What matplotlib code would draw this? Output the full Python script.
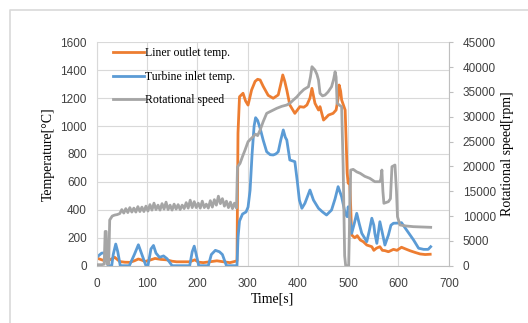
import matplotlib
matplotlib.use('Agg')
import matplotlib.pyplot as plt
from matplotlib.lines import Line2D

# 时间 [s] 与温度 [°C]
liner_t = [0, 8, 16, 25, 36, 46, 56, 66, 75, 83, 90, 96, 106, 116, 128, 139, 150, 159, 172, 185,
           195, 203, 212, 225, 239, 252, 265, 274, 279, 281, 284, 291, 296, 301, 308, 315, 320, 325,
           331, 341, 351, 361, 366, 370, 374, 378, 384, 394, 404, 412, 418, 424, 428, 434, 441, 444,
           451, 456, 461, 470, 476, 480, 482, 485, 487, 494, 498, 500, 503, 507, 513, 518, 524, 530,
           537, 547, 551, 556, 563, 568, 573, 580, 590, 597, 606, 614, 623, 633, 643, 653, 663]
liner_v = [55, 45, 35, 40, 60, 30, 25, 24, 35, 48, 40, 30, 40, 52, 45, 42, 32, 28, 28, 28,
           42, 25, 22, 28, 35, 28, 22, 30, 35, 950, 1210, 1235, 1180, 1150, 1258, 1320, 1335, 1330,
           1285, 1220, 1199, 1223, 1300, 1366, 1320, 1258, 1151, 1091, 1139, 1135, 1151, 1200, 1270, 1163, 1115, 1139,
           1043, 1060, 1079, 1091, 1115, 1200, 1294, 1250, 1187, 1115, 662, 590, 620, 220, 200, 215, 184, 172,
           148, 136, 110, 125, 136, 110, 108, 100, 117, 110, 132, 120, 107, 95, 84, 80, 82]

turb_t = [0, 5, 10, 17, 20, 23, 30, 33, 38, 42, 47, 65, 75, 83, 90, 98, 102, 108, 113, 118, 125,
          133, 140, 150, 185, 190, 194, 198, 203, 222, 228, 236, 244, 250, 258, 279, 281, 284, 290,
          297, 301, 305, 309, 313, 316, 320, 325, 331, 338, 345, 351, 356, 361, 366, 371, 375, 378,
          384, 394, 399, 403, 408, 414, 424, 431, 441, 449, 457, 467, 474, 480, 487, 494, 498, 500,
          503, 507, 512, 517, 522, 527, 537, 542, 547, 551, 553, 557, 563, 567, 573, 580, 585, 590,
          598, 606, 616, 623, 630, 640, 650, 659, 664]
turb_v = [60, 75, 90, 92, 40, 0, 0, 80, 155, 100, 0, 0, 80, 150, 80, 0, 0, 120, 145, 90, 60,
          70, 50, 0, 0, 100, 140, 80, 0, 0, 80, 110, 100, 80, 0, 0, 200, 320, 370,
          385, 420, 540, 800, 1000, 1060, 1040, 984, 900, 816, 795, 793, 800, 816, 900, 972, 920, 900,
          757, 745, 600, 470, 411, 447, 542, 470, 411, 385, 363, 399, 480, 566, 494, 375, 351, 422,
          350, 232, 300, 375, 300, 232, 172, 250, 340, 290, 232, 160, 315, 250, 148, 220, 290, 304,
          305, 308, 256, 220, 184, 125, 117, 117, 136]

# 转速 [rpm]
speed_t = [0, 10, 15, 17, 19, 21, 24, 26, 31, 36, 41,
           46, 50, 54, 58, 62, 66, 70, 74, 78, 82, 86, 90, 94, 98, 102, 106, 110, 114, 118, 122,
           126, 130, 134, 138, 142, 146, 150, 154, 158, 162, 166, 170, 174, 178, 182, 186, 190, 194,
           198, 202, 206, 210, 214, 218, 222, 226, 230, 234, 238, 242, 246, 250, 254, 258, 262, 266,
           270, 274, 278,
           280, 285, 290, 295, 301, 306, 311, 316, 320, 325, 331, 338, 348, 358, 368, 378, 385, 391,
           398, 404, 412, 421, 425, 428, 434, 438, 441, 444, 449, 454, 460, 467, 471, 474, 476, 478,
           483, 487, 490, 493, 495, 501, 503, 505, 510, 517, 524, 533, 543, 553, 563, 565, 567, 569,
           571, 580, 584, 587, 593, 596, 598, 603, 615, 630, 645, 664]
speed_v = [200, 200, 300, 6900, 6900, 300, 300, 9200, 10000, 10200, 10300,
           10500, 11300, 10600, 11500, 10700, 11700, 10800, 11600, 10800, 11900, 10900, 11800, 10900, 12000,
           11000, 12300, 11200, 12600, 11300, 12200, 11200, 12500, 11400, 12800, 11300, 12200, 11200, 12400,
           11400, 12300, 11300, 12200, 11500, 12700, 11600, 13200, 11700, 12900, 11700, 12600, 11600, 13000,
           11700, 12400, 11600, 13100, 11800, 13300, 12200, 14000, 12500, 13500, 12000, 13000, 11700, 12800,
           11500, 12600, 11600,
           19900, 20600, 22000, 23300, 24970, 25500, 25980, 26500, 26200, 27330, 29000, 30690, 31200, 31700,
           32100, 32370, 32800, 33370, 34000, 34720, 35500, 36050, 38000, 40080, 39410, 38500, 37400, 34720,
           34200, 34380, 35000, 36050, 37500, 39070, 38000, 32710, 32300, 32020, 20000, 2000, 0, 0, 10000,
           19270, 19400, 18900, 18600, 18000, 17600, 16920, 16920, 17500, 19270, 15000, 12570, 12900, 13500,
           19940, 20280, 15000, 9870, 8200, 8000, 7860, 7800, 7730]

x_ticks = [0, 100, 200, 300, 400, 500, 600, 700]
temp_ticks = [0, 200, 400, 600, 800, 1000, 1200, 1400, 1600]
speed_ticks = [0, 5000, 10000, 15000, 20000, 25000, 30000, 35000, 40000, 45000]

serif = 'Liberation Serif'
sans = 'Liberation Sans'
grid_c = '#d9d9d9'

fig = plt.figure(figsize=(5.28, 3.23), dpi=100)
ax = fig.add_axes([0.183, 0.1774, 0.667, 0.6917])
ax2 = ax.twinx()

l1, = ax.plot(liner_t, liner_v, color='#ed7d31', linewidth=2.0, label='Liner outlet temp.')
l2, = ax.plot(turb_t, turb_v, color='#5b9bd5', linewidth=2.0, label='Turbine inlet temp.')
l3, = ax2.plot(speed_t, speed_v, color='#a5a5a5', linewidth=2.0, label='Rotational speed')

ax.set_xlim(0, 700)
ax.set_ylim(0, 1600)
ax2.set_ylim(0, 45000)
ax.set_xticks(x_ticks)
ax.set_yticks(temp_ticks)
ax2.set_yticks(speed_ticks)

ax.grid(True, color=grid_c, linewidth=0.8)
ax.set_axisbelow(True)
ax.spines['top'].set_visible(False)
ax2.spines['top'].set_visible(False)
ax.spines['left'].set_color(grid_c)
ax.spines['bottom'].set_color('#bfbfbf')
ax.spines['right'].set_visible(False)
ax2.spines['left'].set_visible(False)
ax2.spines['bottom'].set_visible(False)
ax2.spines['right'].set_color('#bfbfbf')

ax.tick_params(axis='both', length=0, labelsize=8.5, colors='#404040')
ax.tick_params(axis='y', pad=7)
ax.tick_params(axis='x', pad=9)
ax2.tick_params(axis='y', length=3, width=0.8, color='#bfbfbf', labelsize=8.5, labelcolor='#404040', pad=7)
for lab in ax.get_xticklabels() + ax.get_yticklabels() + ax2.get_yticklabels():
    lab.set_fontfamily(sans)

ax.set_xlabel('Time[s]', fontfamily=serif, fontsize=10, labelpad=2)
ax.set_ylabel('Temperature[°C]', fontfamily=serif, fontsize=10, labelpad=4)
ax2.set_ylabel('Rotational speed[rpm]', fontfamily=serif, fontsize=10, labelpad=4)

leg = ax2.legend(handles=[l1, l2, l3], loc='upper left', bbox_to_anchor=(0.047, 0.977),
                 frameon=False, borderpad=0, borderaxespad=0, handlelength=2.6,
                 handletextpad=0.1, labelspacing=0.95, prop={'family': serif, 'size': 8.5})

# 外框（只有左边和上边可见）
bx = 10 / 528
by = 1 - 10 / 323
fig.add_artist(Line2D([bx, bx, 1], [0, by, by], transform=fig.transFigure,
                      color=grid_c, linewidth=1.2))

plt.savefig('out.png', dpi=100)
